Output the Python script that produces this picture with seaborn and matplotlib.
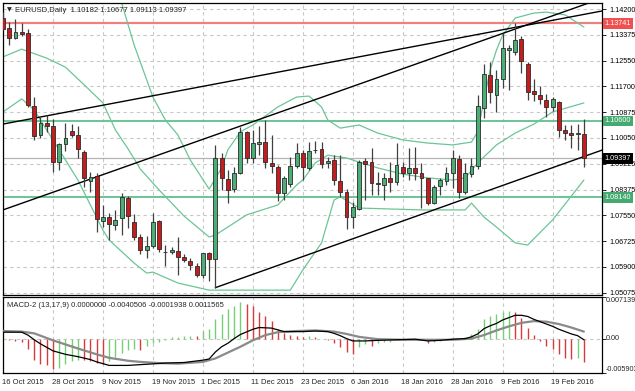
import numpy as np
import pandas as pd
import matplotlib
matplotlib.use("Agg")
import matplotlib.pyplot as plt
import seaborn as sns

sns.set_style("white")
plt.rcParams['font.family'] = ['Liberation Sans', 'DejaVu Sans']

# ---------------- data ----------------
opens = [1.1391,1.1359,1.1327,1.1346,1.1343,1.1108,1.1015,1.1053,1.1044,1.0928,
         1.0986,1.1028,1.1015,1.0960,1.0867,1.0883,1.0738,1.0751,1.0725,1.0748,
         1.0813,1.0735,1.0687,1.0645,1.0658,1.0738,1.0639,1.0639,1.0642,1.0623,
         1.0610,1.0594,1.0565,1.0635,1.0616,1.0941,1.0873,1.0841,1.0893,1.1025,
         1.0941,1.0986,1.0992,1.0925,1.0912,1.0828,1.0857,1.0915,1.0957,1.0909,
         1.0967,1.0970,1.0925,1.0934,1.0867,1.0832,1.0751,1.0777,1.0931,1.0928,
         1.0861,1.0854,1.0877,1.0864,1.0912,1.0893,1.0909,1.0893,1.0877,1.0796,
         1.0851,1.0867,1.0893,1.0938,1.0832,1.0889,1.0915,1.1102,1.1208,1.1143,
         1.1195,1.1288,1.1282,1.1324,1.1243,1.1156,1.1143,1.1127,1.1105,1.1121,
         1.1031,1.1021,1.1018,1.10182]
highs = [1.1410,1.1378,1.1388,1.1375,1.1356,1.1137,1.1073,1.1079,1.1066,1.0989,
         1.1053,1.1050,1.1044,1.0967,1.0896,1.0893,1.0790,1.0764,1.0774,1.0828,
         1.0819,1.0761,1.0697,1.0690,1.0764,1.0742,1.0661,1.0655,1.0687,1.0632,
         1.0619,1.0603,1.0637,1.0639,1.0983,1.0957,1.0902,1.0912,1.1041,1.1028,
         1.1031,1.1044,1.1063,1.1015,1.0918,1.0883,1.0944,1.0989,1.0967,1.0992,
         1.0996,1.0992,1.0944,1.0950,1.0950,1.0841,1.0799,1.0934,1.0941,1.0973,
         1.0896,1.0893,1.0928,1.0989,1.0928,1.0973,1.0976,1.0925,1.0877,1.0854,
         1.0877,1.0912,1.0967,1.0950,1.0925,1.0941,1.1143,1.1243,1.1250,1.1224,
         1.1343,1.1304,1.1375,1.1333,1.1250,1.1195,1.1172,1.1147,1.1137,1.1124,
         1.1047,1.1047,1.1050,1.10677]
lows = [1.1352,1.1304,1.1324,1.1333,1.1105,1.0999,1.1005,1.1025,1.0896,1.0902,
        1.0963,1.1008,1.0941,1.0848,1.0832,1.0703,1.0719,1.0677,1.0709,1.0693,
        1.0716,1.0677,1.0632,1.0619,1.0652,1.0639,1.0594,1.0632,1.0565,1.0607,
        1.0581,1.0558,1.0555,1.0545,1.0523,1.0838,1.0796,1.0832,1.0889,1.0925,
        1.0925,1.0950,1.0909,1.0893,1.0803,1.0806,1.0848,1.0909,1.0870,1.0902,
        1.0957,1.0909,1.0909,1.0854,1.0816,1.0713,1.0716,1.0774,1.0806,1.0822,
        1.0822,1.0806,1.0832,1.0854,1.0880,1.0870,1.0870,1.0780,1.0790,1.0793,
        1.0822,1.0854,1.0844,1.0812,1.0825,1.0880,1.0906,1.1070,1.1118,1.1089,
        1.1166,1.1160,1.1272,1.1214,1.1127,1.1124,1.1115,1.1073,1.1092,1.1008,
        1.0999,1.0973,1.0967,1.09113]
closes = [1.1356,1.1327,1.1346,1.1340,1.1111,1.1012,1.1053,1.1044,1.0928,1.0986,
          1.1005,1.1015,1.0970,1.0877,1.0880,1.0745,1.0751,1.0729,1.0742,1.0816,
          1.0754,1.0687,1.0645,1.0658,1.0735,1.0648,1.0638,1.0645,1.0623,1.0613,
          1.0597,1.0565,1.0635,1.0616,1.0941,1.0877,1.0838,1.0893,1.1025,1.0941,
          1.0989,1.0992,1.0928,1.0915,1.0828,1.0877,1.0915,1.0957,1.0912,1.0963,
          1.0966,1.0922,1.0931,1.0870,1.0832,1.0751,1.0783,1.0928,1.0922,1.0861,
          1.0857,1.0877,1.0864,1.0918,1.0893,1.0909,1.0893,1.0877,1.0796,1.0848,
          1.0870,1.0893,1.0941,1.0832,1.0893,1.0915,1.1108,1.1211,1.1153,1.1195,
          1.1295,1.1295,1.1320,1.1253,1.1153,1.1147,1.1131,1.1105,1.1131,1.1031,
          1.1021,1.1015,1.1021,1.09397]

# Bollinger bands (bar index, price)
bb_upper_idx = [18,19,21,24,26,28,30,33,35,36,38,40,44,47,49,51,52,54,57,60,64,68,72,75,76,77,78,79,80,82,85,87,90,93]
bb_upper_val = [1.1465,1.1439,1.1304,1.1137,1.1063,1.1015,1.0934,1.0841,1.0909,1.0967,1.1025,1.1047,1.1105,1.1137,1.1140,1.1105,1.1063,1.1037,1.1047,1.1021,1.0999,1.0989,1.0983,1.0992,1.1025,1.1127,1.1224,1.1288,1.1336,1.1391,1.1407,1.1410,1.1401,1.1362]
bb_mid_idx = [0,3,7,10,13,16,18,20,22,25,29,33,34,39,44,47,48,50,52,55,57,60,64,68,72,74,76,79,82,85,88,93]
bb_mid_val = [1.1266,1.1291,1.1262,1.1233,1.1176,1.1118,1.1031,1.0971,1.0905,1.0838,1.0754,1.0687,1.0693,1.0758,1.0790,1.0854,1.0870,1.0925,1.0950,1.0941,1.0928,1.0909,1.0889,1.0877,1.0870,1.0877,1.0925,1.0983,1.1021,1.1050,1.1089,1.1118]
bb_low_idx = [0,3,5,8,12,16,17,21,23,24,28,33,46,48,51,53,54,57,67,74,75,77,79,82,84,88,93]
bb_low_val = [1.1089,1.1131,1.1095,1.0999,1.0870,1.0709,1.0677,1.0603,1.0571,1.0574,1.0539,1.0516,1.0516,1.0581,1.0668,1.0806,1.0816,1.0780,1.0774,1.0774,1.0796,1.0751,1.0719,1.0668,1.0661,1.0742,1.0870]

# MACD-2 (13,17,9): histogram per bar, main line and signal line
macd_hist = [-0.0002,-0.0003,-0.0004,-0.0006,-0.0018,-0.0037,-0.0044,-0.0046,-0.0053,-0.0050,
             -0.0043,-0.0039,-0.0036,-0.0037,-0.0039,-0.0042,-0.0044,-0.0038,-0.0032,-0.0024,
             -0.0020,-0.0018,-0.0019,-0.0012,-0.0008,-0.0006,-0.0002,0.0002,0.0003,0.0004,
             0.0005,0.0004,0.0013,0.0016,0.0033,0.0042,0.0050,0.0056,0.0063,0.0059,
             0.0056,0.0045,0.0039,0.0030,0.0016,0.0010,0.0007,0.0005,0.0003,0.0004,
             0.0002,-0.0001,-0.0002,-0.0007,-0.0014,-0.0023,-0.0027,-0.0015,-0.0010,-0.0012,
             -0.0007,-0.0006,-0.0005,-0.0002,-0.0001,0.0000,0.0000,-0.0002,-0.0007,-0.0006,
             -0.0004,-0.0002,0.0000,-0.0001,0.0002,0.0008,0.0017,0.0034,0.0038,0.0042,
             0.0046,0.0047,0.0045,0.0036,0.0019,0.0006,-0.0004,-0.0013,-0.0018,-0.0027,
             -0.0033,-0.0035,-0.0034,-0.0041]
macd_main_idx = [0,2,3,4,5,6,7,8,10,12,14,15,17,20,23,26,29,32,33,34,35,36,37,38,40,41,43,45,48,50,
                 52,53,54,55,56,58,60,63,66,68,70,72,74,75,76,77,78,79,80,81,82,83,84,85,86,87,88,89,90,91,92,93]
macd_main_val = [0.0011,0.0011,0.0011,0.0006,-0.0002,-0.0009,-0.0015,-0.0021,-0.0027,-0.0031,-0.0036,-0.0040,
                 -0.0046,-0.0046,-0.0044,-0.0042,-0.0041,-0.0037,-0.0035,-0.0023,-0.0014,-0.0008,0.0000,0.0007,
                 0.0016,0.0019,0.0018,0.0012,0.0012,0.0013,0.0012,0.0009,0.0005,0.0000,-0.0004,-0.0004,-0.0003,
                 -0.0002,-0.0001,-0.0004,-0.0003,-0.0001,0.0000,0.0003,0.0008,0.0017,0.0022,0.0026,0.0032,0.0036,
                 0.0040,0.0040,0.0038,0.0033,0.0029,0.0025,0.0021,0.0016,0.0012,0.0008,0.0005,-0.0002]
macd_sig_idx = [0,3,5,8,10,12,15,17,20,22,25,28,32,34,36,38,40,42,44,47,50,53,55,57,60,64,68,72,75,77,79,81,83,85,87,89,91,93]
macd_sig_val = [0.0013,0.0012,0.0009,-0.0003,-0.0010,-0.0017,-0.0027,-0.0033,-0.0038,-0.0040,-0.0042,-0.0043,
                -0.0040,-0.0034,-0.0024,-0.0014,-0.0003,0.0006,0.0011,0.0013,0.0014,0.0012,0.0008,0.0003,-0.0001,
                -0.0002,-0.0002,-0.0002,0.0000,0.0006,0.0014,0.0021,0.0027,0.0030,0.0029,0.0025,0.0019,0.0012]

# horizontal levels
level_red = 1.13741
level_green = [1.10600, 1.08140]
last_price = 1.09397

# trend lines: (bar index, price) pairs
trend_lines = [((0, 1.1050), (96, 1.1414)),
               ((0, 1.0774), (96, 1.1455)),
               ((34, 1.0524), (96, 1.0967))]

price_tick_vals = [1.14200 - k * 0.0082955 for k in range(12)]
price_tick_txt = ["1.14200","1.13375","1.12550","1.11700","1.10875","1.10050",
                  "1.09225","1.08375","1.07550","1.06725","1.05900","1.05075"]
date_idx = [0, 8, 16, 24, 32, 40, 48, 56, 64, 72, 80, 88]
date_txt = ["16 Oct 2015","28 Oct 2015","9 Nov 2015","19 Nov 2015","1 Dec 2015",
            "11 Dec 2015","23 Dec 2015","6 Jan 2016","18 Jan 2016","28 Jan 2016",
            "9 Feb 2016","19 Feb 2016"]
title_txt = "EURUSD,Daily  1.10182 1.10677 1.09113 1.09397"
macd_txt = "MACD-2 (13,17,9) 0.0000000 -0.0040506 -0.0001938 0.0011565"
macd_top, macd_bot = 0.007139, -0.005903

# ---------------- figure ----------------
W, H = 635, 391
fig = plt.figure(figsize=(W / 100, H / 100), dpi=100)
fig.patch.set_facecolor("white")

def frac(x0, y0, x1, y1):
    return [x0 / W, 1 - y1 / H, (x1 - x0) / W, (y1 - y0) / H]

ax = fig.add_axes(frac(3, 3, 602, 295))
mx = fig.add_axes(frac(3, 297, 602, 373), sharex=ax)

n = len(closes)
idx = np.arange(n)
ax.set_xlim(0.05, 95.9)
ax.set_ylim(1.05004, 1.14393)
mx.set_ylim(macd_bot, macd_top)

grid_kw = dict(color="#c8c8c8", lw=0.8, ls=(0, (3, 3)), zorder=0)
for v in price_tick_vals:
    ax.axhline(v, **grid_kw)
for d in date_idx:
    ax.axvline(d, **grid_kw)
    mx.axvline(d, **grid_kw)
mx.axhline(0, **grid_kw)

# horizontal levels
ax.axhline(level_red, color="#f08080", lw=1.6, zorder=1)
for g in level_green:
    ax.axhline(g, color="#5fbf8a", lw=1.3, zorder=1)
ax.axhline(last_price, color="#b4b4b4", lw=0.9, zorder=1)

# bollinger bands
band_col = "#6cc596"
for xs, ys in [(bb_upper_idx, bb_upper_val), (bb_mid_idx, bb_mid_val), (bb_low_idx, bb_low_val)]:
    sns.lineplot(x=xs, y=ys, ax=ax, color=band_col, lw=0.9, sort=False, estimator=None, zorder=2)

# trend lines
for (x0, y0), (x1, y1) in trend_lines:
    sns.lineplot(x=[x0, x1], y=[y0, y1], ax=ax, color="black", lw=1.0, sort=False, estimator=None, zorder=3)

# candles
o = np.array(opens); c = np.array(closes); h = np.array(highs); l = np.array(lows)
up = c >= o
ax.vlines(idx, l, h, color="#404040", lw=0.9, zorder=4)
body_lo = np.minimum(o, c)
body_h = np.maximum(np.abs(c - o), 0.00008)
ax.bar(idx[up], body_h[up], bottom=body_lo[up], width=0.62, color="#4cae76",
       edgecolor="#2a2a2a", lw=0.6, zorder=5)
ax.bar(idx[~up], body_h[~up], bottom=body_lo[~up], width=0.62, color="#c51d1d",
       edgecolor="#2a2a2a", lw=0.6, zorder=5)

# MACD histogram (green when rising, red when falling)
hist = np.array(macd_hist)
prev = np.concatenate([[hist[0]], hist[:-1]])
rising = hist >= prev
mx.vlines(idx[rising], 0, hist[rising], color="#74d074", lw=1.0, zorder=2)
mx.vlines(idx[~rising], 0, hist[~rising], color="#d83a3a", lw=1.0, zorder=2)
sns.lineplot(x=macd_sig_idx, y=macd_sig_val, ax=mx, color="#8a8a8a", lw=1.6, sort=False, estimator=None, zorder=3)
sns.lineplot(x=macd_main_idx, y=macd_main_val, ax=mx, color="black", lw=0.9, sort=False, estimator=None, zorder=4)

fs = 5.5      # header / date text
fa = 5.2      # right-axis text
# axes styling
for a in (ax, mx):
    a.set_xlabel(""); a.set_ylabel("")
    for s in a.spines.values():
        s.set_color("#000000"); s.set_linewidth(0.9)
    a.yaxis.tick_right()
    a.tick_params(axis="y", direction="out", length=3, width=0.6, pad=2, labelsize=fa, colors="black")
    a.set_facecolor("white")

ax.set_yticks(price_tick_vals)
ax.set_yticklabels(price_tick_txt)
ax.tick_params(axis="x", length=0, labelbottom=False)
mx.set_yticks([macd_top, 0, macd_bot])
mx.set_yticklabels([])
mx.set_xticks(date_idx)
mx.set_xticklabels([])
mx.tick_params(axis="x", direction="out", length=3, width=0.6)

for d, t in zip(date_idx, date_txt):
    mx.annotate(t, xy=(d, 0), xycoords=("data", "axes fraction"), xytext=(-1, -4),
                textcoords="offset points", ha="left", va="top", fontsize=fs)

tr = mx.get_yaxis_transform()
mx.text(1.006, macd_top, "0.007139", transform=tr, ha="left", va="top", fontsize=fa)
mx.text(1.006, 0, "0.00", transform=tr, ha="left", va="center", fontsize=fa)
mx.text(1.006, macd_bot, "-0.005903", transform=tr, ha="left", va="bottom", fontsize=fa)

# price tags
trp = ax.get_yaxis_transform()
for val, txt, bg in [(level_red, "1.13741", "#f05050"), (level_green[0], "1.10600", "#44aa70"),
                     (last_price, "1.09397", "#000000"), (level_green[1], "1.08140", "#44aa70")]:
    ax.text(1.004, val, txt, transform=trp, ha="left", va="center", fontsize=fa, color="white",
            bbox=dict(boxstyle="square,pad=0.25", fc=bg, ec="none"), clip_on=False, zorder=10)

# headers
ax.text(0.006, 0.985, "\u25bc", transform=ax.transAxes, ha="left", va="top", fontsize=4.5,
        family=["DejaVu Sans"])
ax.text(0.02, 0.985, title_txt, transform=ax.transAxes, ha="left", va="top", fontsize=fs)
mx.text(0.006, 0.93, macd_txt, transform=mx.transAxes, ha="left", va="top", fontsize=fs)

fig.savefig("out.png", dpi=100, facecolor="white")
